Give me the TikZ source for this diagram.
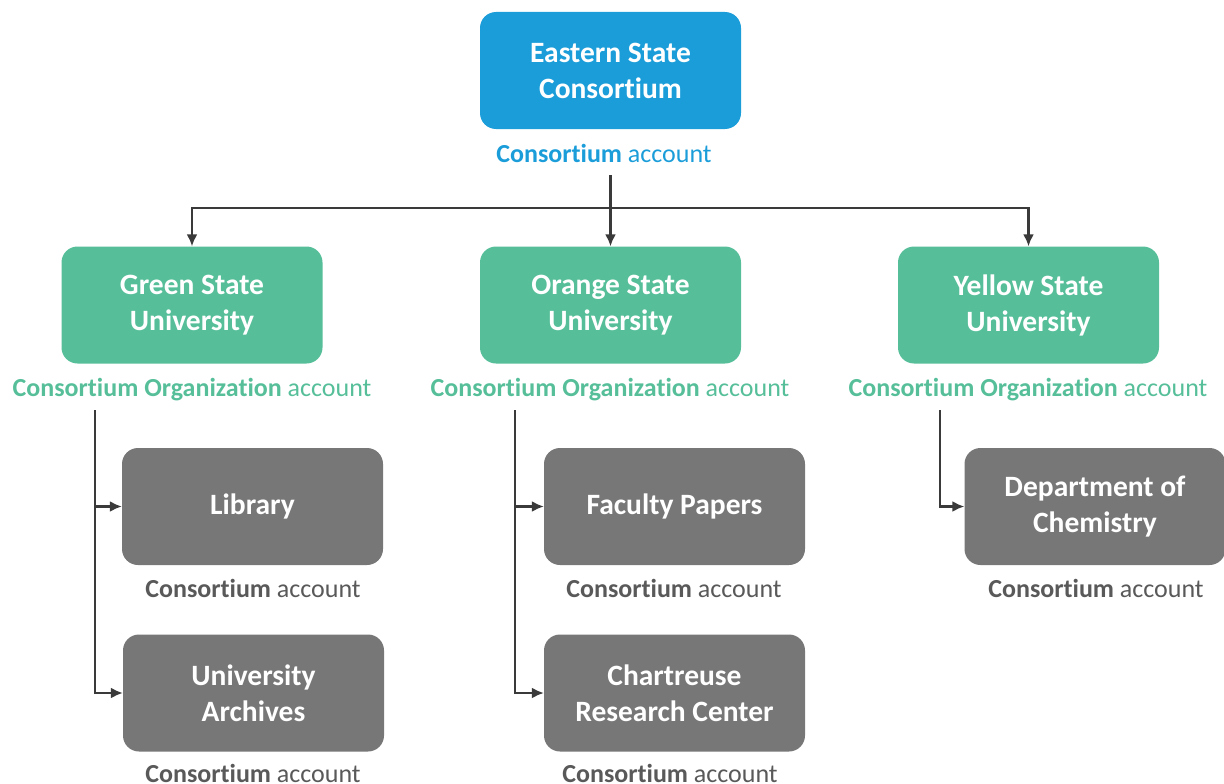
\documentclass[tikz,border=0pt]{standalone}
\usepackage{fontspec}
\setmainfont{Carlito}[Ligatures=NoCommon]
\usetikzlibrary{arrows.meta}
\definecolor{eastBlue}{HTML}{1B9DD9}
\definecolor{uniGreen}{HTML}{56BF9A}
\definecolor{unitGray}{HTML}{777777}
\definecolor{labelGray}{HTML}{595959}
\definecolor{lineGray}{HTML}{3A3A3A}

\begin{document}
\begin{tikzpicture}[
	x=1pt,
	y=-1pt,
	box/.style={rounded corners=16pt,minimum width=261pt,minimum height=117pt,align=center,text=white,font=\fontsize{29.5}{36}\selectfont\bfseries},
	top/.style={box,fill=eastBlue},
	uni/.style={box,fill=uniGreen},
	unit/.style={box,fill=unitGray},
	acc/.style={anchor=base,inner sep=0pt,font=\fontsize{26}{30}\selectfont},
	arr/.style={-{Latex[length=12pt,width=11pt]},draw=lineGray,line width=2.1pt}
	]
	\useasboundingbox (0,0) rectangle (1224,784);
	% consortium
	\node[top] (est) at (610.5,70.5) {Eastern State\\Consortium};
	\node[acc,text=eastBlue] (estacc) at (604,162) {\textbf{Consortium} account};
	% universities
	\node[uni] (green) at (192,305) {Green State\\University};
	\node[uni] (orange) at (610.5,305) {Orange State\\University};
	\node[uni] (yellow) at (1028.5,305) {Yellow State\\University};
	\node[acc,text=uniGreen] (greenacc) at (192,396) {\textbf{Consortium Organization} account};
	\node[acc,text=uniGreen] (orangeacc) at (610,396) {\textbf{Consortium Organization} account};
	\node[acc,text=uniGreen] (yellowacc) at (1028,396) {\textbf{Consortium Organization} account};
	% units
	\node[unit] (library) at (252.5,506.5) {Library};
	\node[unit] (archives) at (253.5,693) {University\\Archives};
	\node[unit] (faculty) at (674.5,506.5) {Faculty Papers};
	\node[unit] (chartreuse) at (674.5,693) {Chartreuse\\Research Center};
	\node[unit] (chemistry) at (1095,506.5) {Department of\\Chemistry};
	\node[acc,text=labelGray] (libacc) at (253,597) {\textbf{Consortium} account};
	\node[acc,text=labelGray] (archacc) at (253,782) {\textbf{Consortium} account};
	\node[acc,text=labelGray] (facacc) at (674,597) {\textbf{Consortium} account};
	\node[acc,text=labelGray] (chartacc) at (670,782) {\textbf{Consortium} account};
	\node[acc,text=labelGray] (chemacc) at (1096,597) {\textbf{Consortium} account};
	% connectors
	\coordinate (split) at (610.5,208);
	\coordinate (gtrunk) at (95,410);
	\coordinate (otrunk) at (515,410);
	\coordinate (ytrunk) at (940,410);
	\draw[arr] (est |- estacc.south) ++(0,13) -- (orange);
	\draw[arr] (split) -| (green);
	\draw[arr] (split) -| (yellow);
	\draw[arr] (gtrunk) |- (library);
	\draw[arr] (gtrunk) |- (archives);
	\draw[arr] (otrunk) |- (faculty);
	\draw[arr] (otrunk) |- (chartreuse);
	\draw[arr] (ytrunk) |- (chemistry);
\end{tikzpicture}
\end{document}
